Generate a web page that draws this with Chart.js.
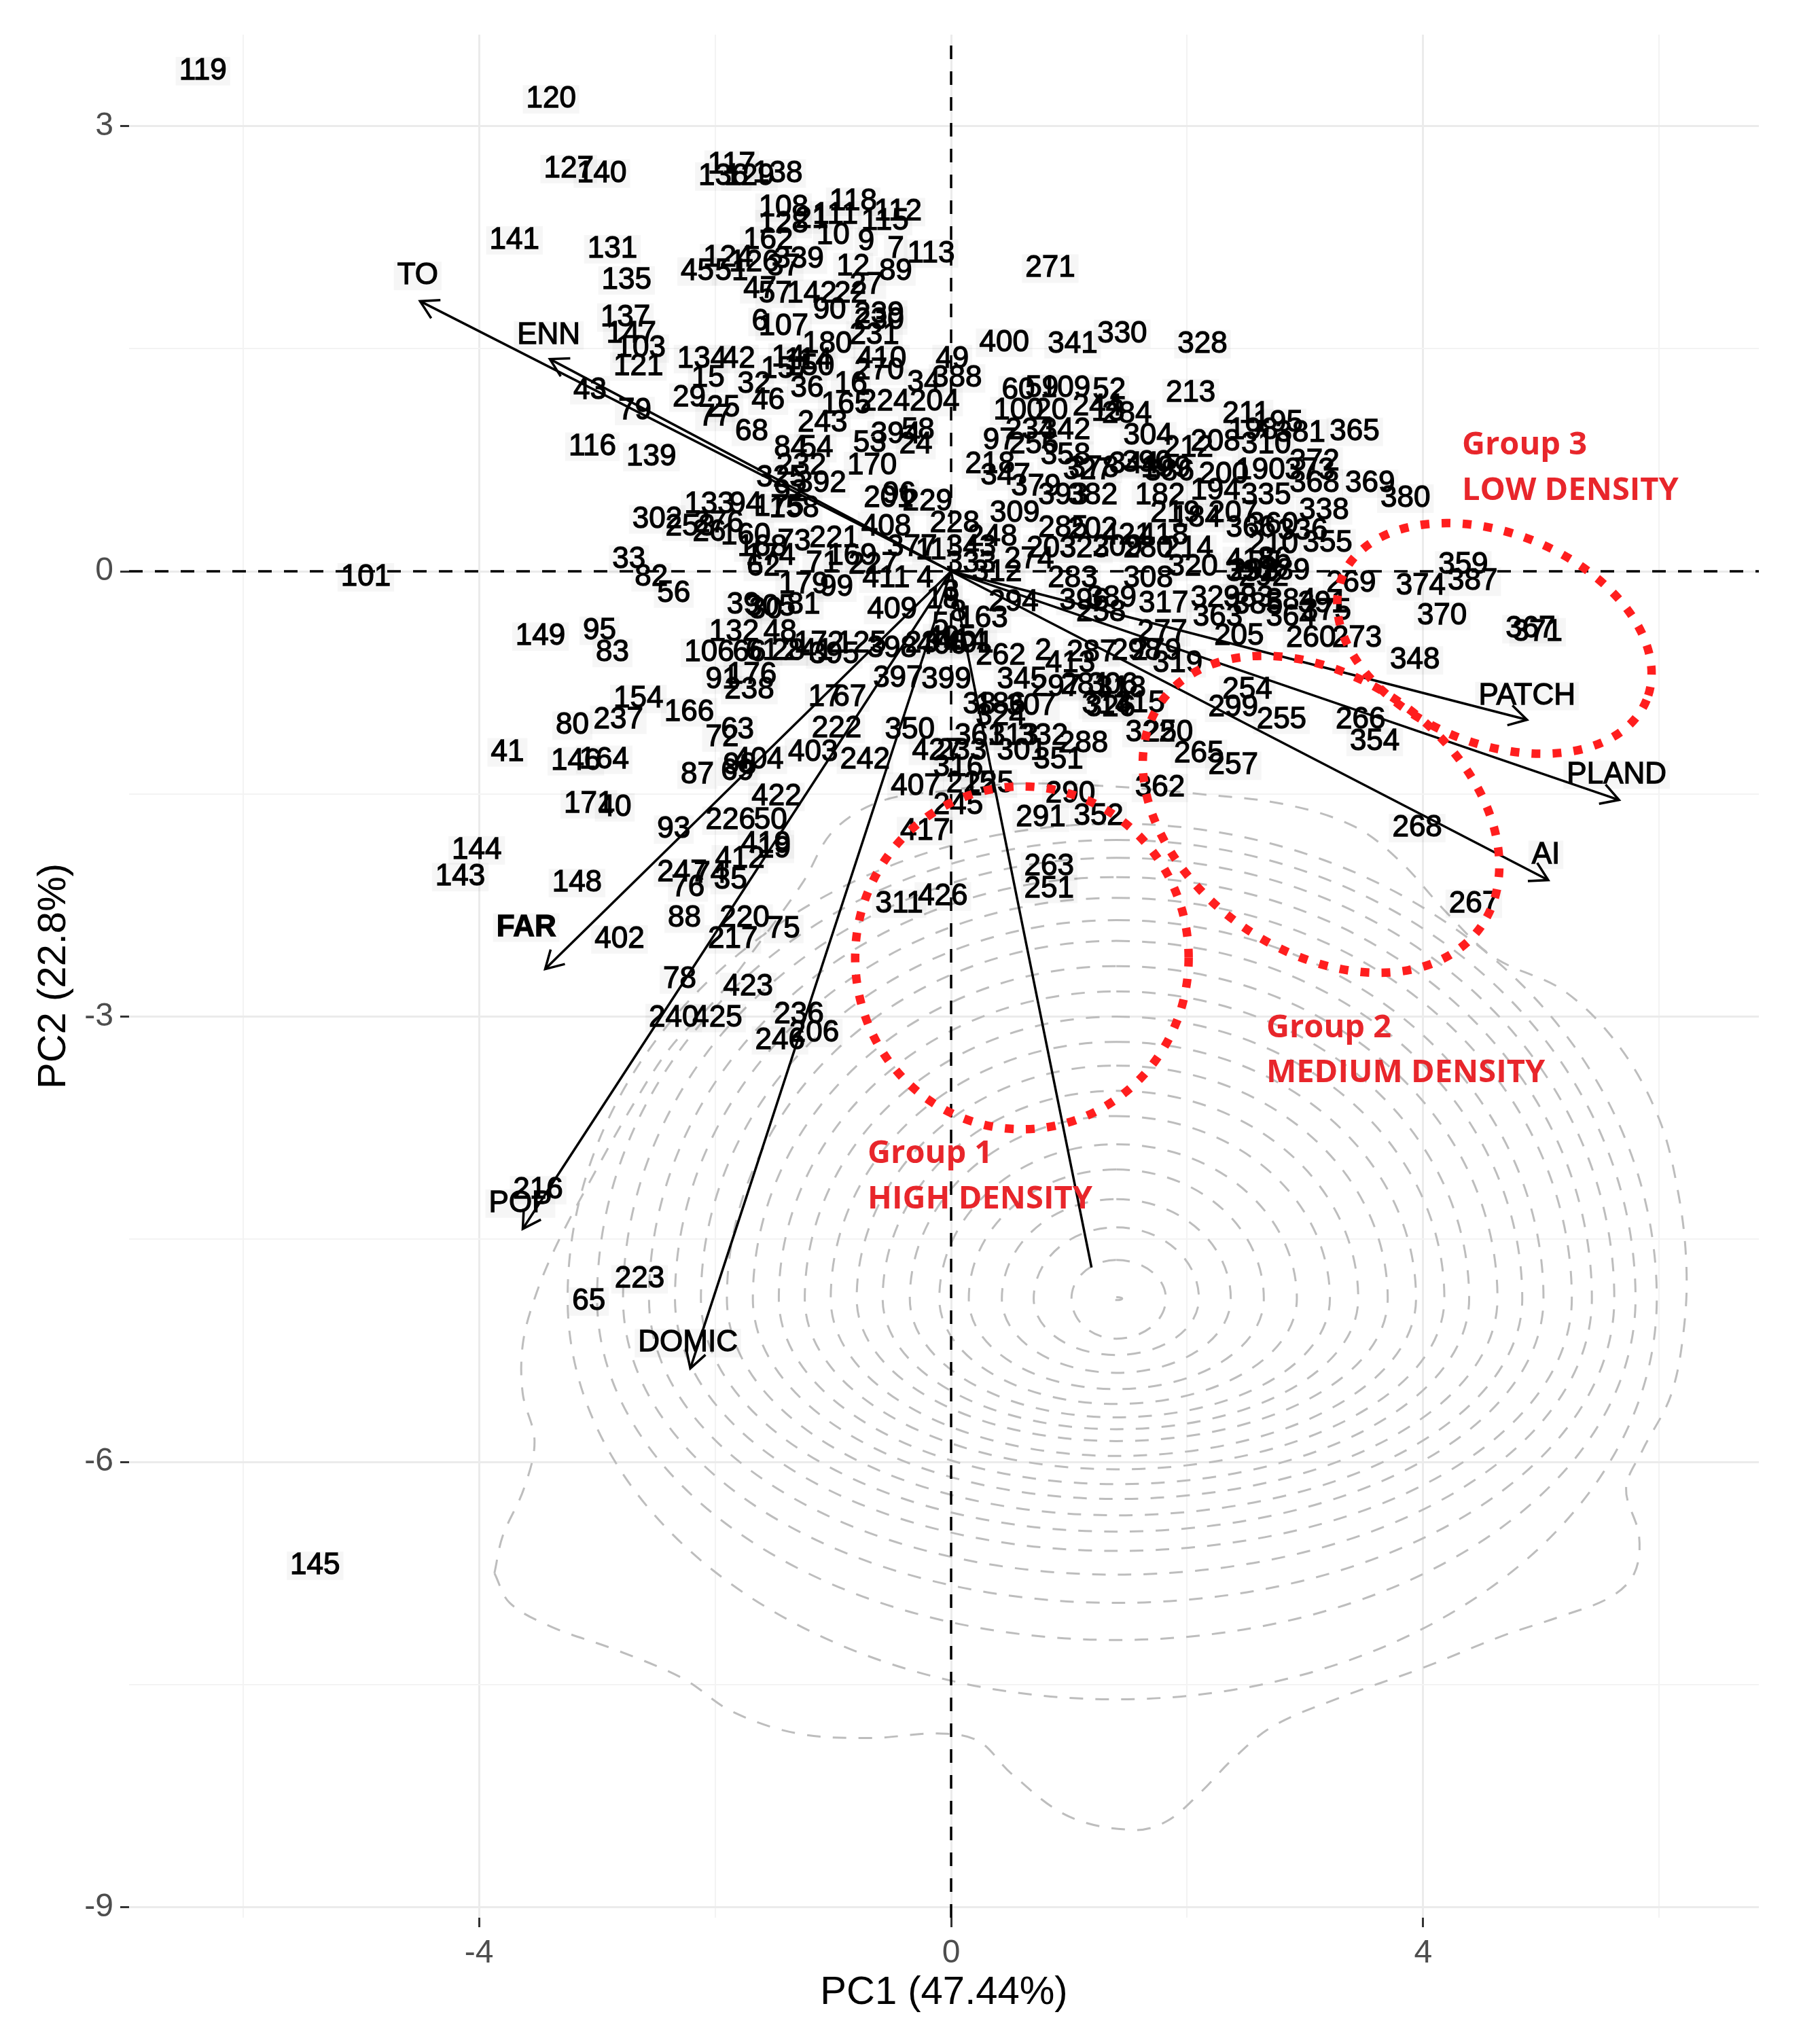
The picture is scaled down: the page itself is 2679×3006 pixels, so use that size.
<!DOCTYPE html>
<html>
<head>
<meta charset="utf-8">
<title>PCA biplot</title>
<script src="https://cdn.jsdelivr.net/npm/chart.js@4.4.1/dist/chart.umd.min.js"></script>
<style>
  html, body { margin: 0; padding: 0; background: #fff; }
  canvas { display: block; }
</style>
</head>
<body>
<canvas id="biplot" width="2679" height="3006"></canvas>
<script>
// observation labels and their scores on PC1 / PC2
const obsIds = [
  119,120,127,140,141,131,135,137,147,103,121,43,79,116,139,
  117,136,129,138,108,118,112,115,111,21,128,162,10,9,7,
  113,124,126,339,45,51,37,12,89,47,57,142,22,27,90,
  239,230,6,107,231,180,134,42,14,114,410,49,15,157,150,
  270,388,34,29,25,77,46,32,36,16,165,224,204,68,243,
  394,58,53,24,84,54,170,232,325,392,92,201,96,229,133,
  94,175,158,302,253,26,160,276,168,62,33,82,56,101,149,
  95,83,73,221,174,71,169,227,411,4,333,179,99,39,30,
  305,81,409,18,163,294,132,48,106,66,61,28,241,172,125,
  395,398,23,414,262,2,413,287,91,176,238,397,399,345,297,
  281,306,17,67,38,186,307,324,314,326,154,166,80,237,41,
  146,164,63,72,222,350,361,313,332,288,427,233,301,351,404,
  403,242,87,69,98,316,407,215,225,290,245,291,352,417,422,
  226,50,419,19,412,247,74,35,76,263,251,426,311,171,40,
  93,148,144,143,402,88,220,217,75,78,423,240,425,236,246,
  206,216,223,65,145,
  271,400,341,330,328,60,59,109,52,213,100,20,244,284,211,
  195,381,365,97,234,342,304,212,208,310,218,256,358,347,327,
  344,386,200,190,372,373,379,393,382,182,194,335,368,369,380,
  338,309,219,184,207,360,285,202,421,418,203,323,209,280,214,
  210,355,283,308,320,293,289,269,396,389,317,329,383,384,363,
  364,374,387,359,370,367,371,205,260,273,348,277,279,319,254,
  299,255,266,354,322,250,265,257,362,268,267,258,298,318,315,
  343,248,274,312,228,408,377,11,13,198,378,390,199,366,336,
  415,86,331,292,385,391,375,3,8,5,405,406,401
];
const obsPC1 = [
  -6.34,-3.39,-3.24,-2.96,-3.70,-2.87,-2.75,-2.76,-2.71,-2.63,-2.65,-3.06,-2.68,-3.04,-2.54,
  -1.86,-1.93,-1.71,-1.47,-1.42,-0.83,-0.45,-0.56,-0.98,-1.18,-1.42,-1.55,-1.00,-0.72,-0.47,
  -0.17,-1.89,-1.67,-1.29,-2.15,-1.86,-1.42,-0.83,-0.47,-1.62,-1.49,-1.18,-0.85,-0.72,-1.03,
  -0.61,-0.61,-1.62,-1.42,-0.65,-1.05,-2.11,-1.80,-1.38,-1.21,-0.59,0.01,-2.06,-1.40,-1.20,
  -0.61,0.05,-0.23,-2.22,-1.93,-2.00,-1.55,-1.67,-1.22,-0.85,-0.89,-0.56,-0.14,-1.69,-1.09,
  -0.47,-0.28,-0.69,-0.30,-1.36,-1.14,-0.67,-1.27,-1.44,-1.10,-1.36,-0.53,-0.44,-0.20,-2.05,
  -1.74,-1.46,-1.33,-2.49,-2.21,-2.05,-1.74,-1.97,-1.60,-1.59,-2.73,-2.54,-2.35,-4.96,-3.48,
  -2.98,-2.87,-1.33,-0.99,-1.53,-1.09,-0.84,-0.66,-0.55,-0.22,0.17,-1.25,-0.97,-1.76,-1.57,
  -1.53,-1.25,-0.50,-0.07,0.27,0.53,-1.84,-1.45,-2.05,-1.71,-1.60,-1.38,-1.21,-1.12,-0.76,
  -0.99,-0.50,-0.25,0.09,0.42,0.78,1.01,1.19,-1.94,-1.69,-1.71,-0.45,-0.04,0.60,0.89,
  1.14,1.37,-1.07,-0.86,0.24,0.42,0.68,0.42,1.32,1.35,-2.65,-2.22,-3.21,-2.82,-3.76,
  -3.18,-2.94,-1.81,-1.94,-0.97,-0.35,0.24,0.53,0.78,1.12,-0.12,0.09,0.60,0.91,-1.63,
  -1.17,-0.73,-2.15,-1.81,-1.79,0.06,-0.30,0.17,0.32,1.01,0.06,0.76,1.25,-0.22,-1.48,
  -1.87,-1.53,-1.57,-1.50,-1.79,-2.28,-2.04,-1.87,-2.23,0.83,0.83,-0.07,-0.44,-3.07,-2.85,
  -2.35,-3.17,-4.02,-4.16,-2.81,-2.26,-1.75,-1.85,-1.42,-2.30,-1.72,-2.35,-1.98,-1.29,-1.45,
  -1.16,-3.50,-2.64,-3.07,-5.39,
  0.84,0.45,1.03,1.45,2.13,0.57,0.77,0.97,1.34,2.03,0.57,0.85,1.24,1.49,2.50,
  2.77,2.96,3.42,0.41,0.67,0.97,1.67,2.01,2.24,2.67,0.33,0.70,0.97,0.46,1.16,
  1.55,1.85,2.31,2.62,3.08,3.04,0.72,0.95,1.20,1.77,2.24,2.67,3.08,3.55,3.85,
  3.16,0.54,1.90,2.08,2.39,2.73,0.95,1.20,1.49,1.80,0.85,1.13,1.41,1.67,2.01,
  2.73,3.19,1.03,1.67,2.05,2.57,2.83,3.39,1.13,1.36,1.80,2.24,2.52,2.88,2.26,
  2.88,3.98,4.42,4.34,4.16,4.91,4.97,2.44,3.05,3.44,3.93,1.79,1.74,1.92,2.51,
  2.39,2.80,3.47,3.59,1.69,1.84,2.10,2.39,1.77,3.95,4.43,1.27,1.57,1.44,1.60,
  0.17,0.35,0.66,0.39,0.03,-0.55,-0.33,-0.17,1.33,2.56,1.21,1.66,1.82,2.54,2.98,
  2.54,2.74,2.54,2.65,2.60,3.15,3.18,0.00,0.06,-0.09,0.00,-0.08,0.15
];
const obsPC2 = [
  3.37,3.18,2.71,2.68,2.23,2.17,1.96,1.71,1.60,1.50,1.38,1.22,1.08,0.84,0.77,
  2.74,2.66,2.66,2.68,2.45,2.49,2.42,2.36,2.40,2.37,2.34,2.23,2.26,2.22,2.17,
  2.14,2.11,2.08,2.10,2.02,2.02,2.05,2.05,2.02,1.90,1.87,1.87,1.87,1.93,1.76,
  1.73,1.69,1.68,1.65,1.59,1.53,1.43,1.43,1.44,1.42,1.43,1.43,1.30,1.36,1.38,
  1.35,1.30,1.27,1.17,1.10,1.04,1.15,1.26,1.23,1.26,1.12,1.14,1.14,0.94,1.00,
  0.92,0.95,0.86,0.85,0.83,0.83,0.71,0.71,0.63,0.59,0.53,0.49,0.52,0.47,0.45,
  0.45,0.43,0.42,0.35,0.30,0.26,0.24,0.32,0.16,0.03,0.08,-0.04,-0.15,-0.04,-0.44,
  -0.40,-0.55,0.20,0.22,0.10,0.05,0.10,0.04,-0.05,-0.05,0.05,-0.09,-0.11,-0.23,-0.26,
  -0.24,-0.23,-0.26,-0.19,-0.32,-0.21,-0.41,-0.41,-0.55,-0.55,-0.54,-0.54,-0.54,-0.49,-0.49,
  -0.56,-0.52,-0.49,-0.47,-0.57,-0.54,-0.62,-0.55,-0.73,-0.70,-0.80,-0.72,-0.73,-0.73,-0.78,
  -0.77,-0.77,-0.85,-0.85,-0.90,-0.90,-0.91,-0.98,-0.90,-0.92,-0.86,-0.95,-1.04,-1.00,-1.22,
  -1.28,-1.27,-1.07,-1.12,-1.06,-1.07,-1.11,-1.11,-1.11,-1.16,-1.21,-1.21,-1.21,-1.27,-1.27,
  -1.22,-1.27,-1.37,-1.35,-1.31,-1.32,-1.45,-1.43,-1.43,-1.50,-1.58,-1.66,-1.65,-1.75,-1.52,
  -1.68,-1.68,-1.84,-1.87,-1.94,-2.03,-2.04,-2.08,-2.13,-1.99,-2.14,-2.19,-2.24,-1.57,-1.59,
  -1.74,-2.10,-1.88,-2.06,-2.48,-2.34,-2.34,-2.48,-2.41,-2.75,-2.80,-3.01,-3.01,-2.99,-3.16,
  -3.11,-4.17,-4.77,-4.92,-6.70,
  2.04,1.54,1.53,1.60,1.53,1.22,1.23,1.23,1.22,1.20,1.08,1.08,1.11,1.06,1.06,
  1.00,0.93,0.94,0.88,0.95,0.95,0.91,0.83,0.87,0.85,0.72,0.85,0.78,0.64,0.68,
  0.72,0.67,0.65,0.68,0.74,0.68,0.57,0.51,0.51,0.51,0.54,0.51,0.59,0.59,0.49,
  0.41,0.39,0.39,0.36,0.39,0.31,0.29,0.28,0.24,0.24,0.15,0.15,0.16,0.15,0.15,
  0.18,0.19,-0.05,-0.05,0.03,0.00,0.00,-0.08,-0.20,-0.18,-0.22,-0.18,-0.18,-0.20,-0.31,
  -0.31,-0.10,-0.07,0.04,-0.30,-0.39,-0.41,-0.44,-0.45,-0.45,-0.60,-0.41,-0.54,-0.62,-0.80,
  -0.92,-1.00,-1.00,-1.15,-1.09,-1.09,-1.23,-1.31,-1.46,-1.73,-2.24,-0.28,-0.54,-0.79,-0.89,
  0.16,0.23,0.08,-0.01,0.32,0.30,0.16,0.14,1.07,0.95,0.69,0.73,0.69,0.29,0.27,
  0.07,0.08,-0.01,-0.04,-0.23,-0.22,-0.27,-0.14,-0.28,-0.36,-0.45,-0.50,-0.49
];

// variable loadings (arrow tips) and where their names sit
const varNames = ['TO', 'ENN', 'FAR', 'POP', 'DOMIC', '', 'PATCH', 'PLAND', 'AI'];
const varPC1 = [-4.50, -3.40, -3.44, -3.63, -2.21, 1.19, 4.88, 5.66, 5.06];
const varPC2 = [1.82, 1.43, -2.68, -4.43, -5.37, -4.69, -1.00, -1.54, -2.08];
const varLabPC1 = [-4.52, -3.41, -3.60, -3.65, -2.23, 0, 4.88, 5.64, 5.04];
const varLabPC2 = [1.99, 1.59, -2.40, -4.26, -5.20, 0, -0.84, -1.37, -1.91];

// density contours of the score cloud
const densCenter = [1.40, -4.90];
const ringLeft   = [0.05,0.38,0.70,0.97,1.25,1.50,1.75,1.98,2.20,2.42,2.64,2.86,3.08,3.30,3.52,3.74,3.96,4.18,4.40,4.65];
const ringRight  = [0.05,0.42,0.70,0.97,1.25,1.53,1.81,2.05,2.30,2.54,2.78,2.99,3.23,3.44,3.62,3.86,4.03,4.22,4.40,4.58];
const ringTop    = [0.01,0.26,0.48,0.67,0.87,1.04,1.23,1.40,1.57,1.73,1.90,2.07,2.24,2.41,2.55,2.70,2.84,2.97,3.09,3.20];
const ringBottom = [0.01,0.27,0.38,0.50,0.61,0.71,0.80,0.88,0.96,1.06,1.15,1.25,1.35,1.46,1.57,1.70,1.86,2.05,2.30,2.70];
const outerPC1 = [-3.87,-3.80,-3.62,-3.53,-3.63,-3.63,-3.53,-3.35,-3.04,-2.70,-2.38,-1.99,-1.66,-1.26,-1.00,-0.60,-0.07,0.58,1.38,2.10,
  2.83,3.42,3.80,4.20,4.60,5.20,5.67,6.00,6.16,6.23,6.21,6.10,5.86,5.72,5.83,5.79,5.59,5.17,4.68,3.99,
  3.29,2.73,2.39,2.11,1.83,1.55,1.00,0.51,0.23,-0.12,-0.67,-1.30,-1.86,-2.27,-2.83,-3.39,-3.74,-3.87];
const outerPC2 = [-6.75,-6.50,-6.18,-5.86,-5.54,-5.21,-4.90,-4.55,-4.08,-3.60,-3.21,-2.88,-2.54,-2.10,-1.75,-1.55,-1.48,-1.43,-1.45,-1.50,
  -1.57,-1.72,-1.95,-2.30,-2.60,-2.83,-3.21,-3.69,-4.18,-4.66,-5.10,-5.55,-5.92,-6.18,-6.50,-6.75,-6.91,-7.04,-7.17,-7.39,
  -7.59,-7.78,-8.00,-8.23,-8.42,-8.48,-8.39,-8.10,-7.88,-7.83,-7.86,-7.83,-7.68,-7.46,-7.27,-7.11,-6.95,-6.75];

// axes
const xRange = [-6.966, 6.845];
const yRange = [-9.071, 3.616];
const xTicks = [-6, -4, -2, 0, 2, 4, 6];
const xTickLabels = ['', '-4', '', '0', '', '4', ''];
const yTicks = [3, 1.5, 0, -1.5, -3, -4.5, -6, -7.5, -9];
const yTickLabels = ['3', '', '0', '', '-3', '', '-6', '', '-9'];

// the three hand drawn groups
const groupTitle = ['Group 1', 'Group 2', 'Group 3'];
const groupDensity = ['HIGH DENSITY', 'MEDIUM DENSITY', 'LOW DENSITY'];
const groupPC1 = [0.60, 3.135, 4.604];
const groupPC2 = [-2.604, -1.637, -0.452];
const groupRx = [1.413, 1.656, 1.391];
const groupRy = [1.155, 0.922, 0.709];
const groupTilt = [0, 35, 22];
const groupTextPC1 = [-0.708, 2.671, 4.329];
const groupTextPC2 = [-3.927, -3.076, 0.847];
const groupText2PC2 = [-4.233, -3.382, 0.540];

const FONT = '"Liberation Sans", Arial, Helvetica, sans-serif';
const LABEL_SET = 2;

function labelBox(ctx, text, x, y) {
  const w = ctx.measureText(text).width;
  ctx.fillStyle = 'rgba(0,0,0,0.035)';
  ctx.fillRect(x - w / 2 - 5, y - 21, w + 10, 42);
}

function inkText(ctx, text, x, y) {
  ctx.fillText(text, x, y);
  ctx.strokeText(text, x, y);
}

const biplotPlugin = {
  id: 'biplot',
  beforeDatasetsDraw(chart) {
    const {ctx, chartArea: a, scales: {x, y}} = chart;
    const cx = x.getPixelForValue(densCenter[0]);
    const cy = y.getPixelForValue(densCenter[1]);
    ctx.save();
    ctx.beginPath();
    ctx.rect(a.left, a.top, a.right - a.left, a.bottom - a.top);
    ctx.clip();
    ctx.strokeStyle = '#bdbdbd';
    ctx.lineWidth = 3;
    ctx.setLineDash([20, 18]);
    for (let i = 0; i < ringLeft.length; i++) {
      const rl = cx - x.getPixelForValue(densCenter[0] - ringLeft[i]);
      const rr = x.getPixelForValue(densCenter[0] + ringRight[i]) - cx;
      const rt = cy - y.getPixelForValue(densCenter[1] + ringTop[i]);
      const rb = y.getPixelForValue(densCenter[1] - ringBottom[i]) - cy;
      ctx.beginPath();
      ctx.ellipse(cx, cy, rr, rt, 0, -Math.PI / 2, 0);
      ctx.ellipse(cx, cy, rr, rb, 0, 0, Math.PI / 2);
      ctx.ellipse(cx, cy, rl, rb, 0, Math.PI / 2, Math.PI);
      ctx.ellipse(cx, cy, rl, rt, 0, Math.PI, Math.PI * 1.5);
      ctx.closePath();
      ctx.stroke();
    }
    ctx.restore();
  },
  afterDatasetDraw(chart, args) {
    if (args.index !== LABEL_SET) return;
    const {ctx, chartArea: a} = chart;
    const pts = args.meta.data;
    ctx.save();
    ctx.beginPath();
    ctx.rect(a.left, a.top, a.right - a.left, a.bottom - a.top);
    ctx.clip();
    ctx.font = '44px ' + FONT;
    ctx.textAlign = 'center';
    ctx.textBaseline = 'middle';
    pts.forEach((p, i) => labelBox(ctx, String(obsIds[i]), p.x, p.y));
    ctx.fillStyle = '#000';
    ctx.strokeStyle = '#000';
    ctx.lineWidth = 1.3;
    pts.forEach((p, i) => inkText(ctx, String(obsIds[i]), p.x, p.y));
    ctx.restore();
  },
  afterDatasetsDraw(chart) {
    const {ctx, scales: {x, y}} = chart;
    const ox = x.getPixelForValue(0), oy = y.getPixelForValue(0);
    ctx.save();
    // arrow heads
    ctx.strokeStyle = '#000';
    ctx.lineWidth = 3.5;
    ctx.setLineDash([]);
    varNames.forEach((name, i) => {
      if (!name) return;
      const tx = x.getPixelForValue(varPC1[i]);
      const ty = y.getPixelForValue(varPC2[i]);
      const ang = Math.atan2(ty - oy, tx - ox);
      const len = 30, spread = Math.PI / 6;
      ctx.beginPath();
      ctx.moveTo(tx - len * Math.cos(ang - spread), ty - len * Math.sin(ang - spread));
      ctx.lineTo(tx, ty);
      ctx.lineTo(tx - len * Math.cos(ang + spread), ty - len * Math.sin(ang + spread));
      ctx.stroke();
    });
    // variable names
    ctx.textAlign = 'center';
    ctx.textBaseline = 'middle';
    ctx.lineWidth = 1.3;
    varNames.forEach((name, i) => {
      if (!name) return;
      const lx = x.getPixelForValue(varLabPC1[i]);
      const ly = y.getPixelForValue(varLabPC2[i]);
      ctx.font = (name === 'FAR' ? 'bold ' : '') + '44px ' + FONT;
      labelBox(ctx, name, lx, ly);
      ctx.fillStyle = '#000';
      inkText(ctx, name, lx, ly);
    });
    // red dotted group outlines
    ctx.strokeStyle = '#ff1e1e';
    ctx.lineWidth = 12.5;
    ctx.lineCap = 'butt';
    ctx.setLineDash([13, 18]);
    groupTitle.forEach((g, i) => {
      const cx = x.getPixelForValue(groupPC1[i]);
      const cy = y.getPixelForValue(groupPC2[i]);
      const rx = Math.abs(x.getPixelForValue(groupPC1[i] + groupRx[i]) - cx);
      const ry = Math.abs(y.getPixelForValue(groupPC2[i] + groupRy[i]) - cy);
      ctx.beginPath();
      ctx.ellipse(cx, cy, rx, ry, groupTilt[i] * Math.PI / 180, 0, Math.PI * 2);
      ctx.stroke();
    });
    // group captions
    ctx.setLineDash([]);
    ctx.fillStyle = '#e8262b';
    ctx.font = '700 47px "Open Sans", Lato, sans-serif';
    ctx.textAlign = 'left';
    groupTitle.forEach((g, i) => {
      const tx = x.getPixelForValue(groupTextPC1[i]);
      ctx.fillText(g, tx, y.getPixelForValue(groupTextPC2[i]));
      ctx.fillText(groupDensity[i], tx, y.getPixelForValue(groupText2PC2[i]));
    });
    ctx.restore();
  }
};

const isMajorX = v => Math.abs(v % 4) < 1e-9;
const isMajorY = v => Math.abs(v % 3) < 1e-9;

const datasets = [
  {
    // outermost contour
    data: outerPC1.map((v, i) => ({x: v, y: outerPC2[i]})),
    showLine: true, pointRadius: 0, borderColor: '#bdbdbd', borderWidth: 3,
    borderDash: [20, 18], tension: 0.35, order: 50
  },
  {
    // zero lines
    data: [{x: xRange[0], y: 0}, {x: xRange[1], y: 0}, {x: NaN, y: NaN}, {x: 0, y: yRange[0]}, {x: 0, y: yRange[1]}],
    showLine: true, spanGaps: false, pointRadius: 0, borderColor: '#000', borderWidth: 3.5,
    borderDash: [20, 18], order: 40
  },
  {
    // observations (drawn as text)
    data: obsPC1.map((v, i) => ({x: v, y: obsPC2[i]})),
    pointRadius: 0, order: 30
  }
];
varNames.forEach((name, i) => {
  datasets.push({
    data: [{x: 0, y: 0}, {x: varPC1[i], y: varPC2[i]}],
    showLine: true, pointRadius: 0, borderColor: '#000', borderWidth: 3.5, order: 10
  });
});

new Chart(document.getElementById('biplot'), {
  type: 'scatter',
  data: {datasets},
  options: {
    responsive: false,
    animation: false,
    events: [],
    layout: {padding: {left: 0, top: 51, right: 90, bottom: 0}},
    plugins: {legend: {display: false}, tooltip: {enabled: false}},
    scales: {
      x: {
        type: 'linear', min: xRange[0], max: xRange[1],
        afterBuildTicks: s => { s.ticks = xTicks.map(v => ({value: v})); },
        afterFit: s => { s.height = 183; },
        ticks: {
          callback: (v, i) => xTickLabels[i],
          font: {size: 48, family: FONT}, color: '#4d4d4d', padding: 10,
          autoSkip: false, maxRotation: 0
        },
        grid: {
          color: c => (c.tick && isMajorX(c.tick.value)) ? '#ebebeb' : '#f3f3f3',
          lineWidth: c => (c.tick && isMajorX(c.tick.value)) ? 3 : 2,
          tickLength: 14, tickWidth: 3,
          tickColor: c => (c.tick && isMajorX(c.tick.value)) ? '#333' : 'rgba(0,0,0,0)'
        },
        border: {display: false},
        title: {display: true, text: 'PC1 (47.44%)', color: '#000',
          font: {size: 58, family: FONT}, padding: {top: 0, bottom: 37}}
      },
      y: {
        type: 'linear', min: yRange[0], max: yRange[1],
        afterBuildTicks: s => { s.ticks = yTicks.map(v => ({value: v})); },
        afterFit: s => { s.width = 190; },
        ticks: {
          callback: (v, i) => yTickLabels[i],
          font: {size: 48, family: FONT}, color: '#4d4d4d', padding: 10,
          autoSkip: false
        },
        grid: {
          color: c => (c.tick && isMajorY(c.tick.value)) ? '#ebebeb' : '#f3f3f3',
          lineWidth: c => (c.tick && isMajorY(c.tick.value)) ? 3 : 2,
          tickLength: 13, tickWidth: 3,
          tickColor: c => (c.tick && isMajorY(c.tick.value)) ? '#333' : 'rgba(0,0,0,0)'
        },
        border: {display: false},
        title: {display: true, text: 'PC2 (22.8%)', color: '#000',
          font: {size: 58, family: FONT}, padding: {top: 45, bottom: 0}}
      }
    }
  },
  plugins: [biplotPlugin]
});
</script>
</body>
</html>
